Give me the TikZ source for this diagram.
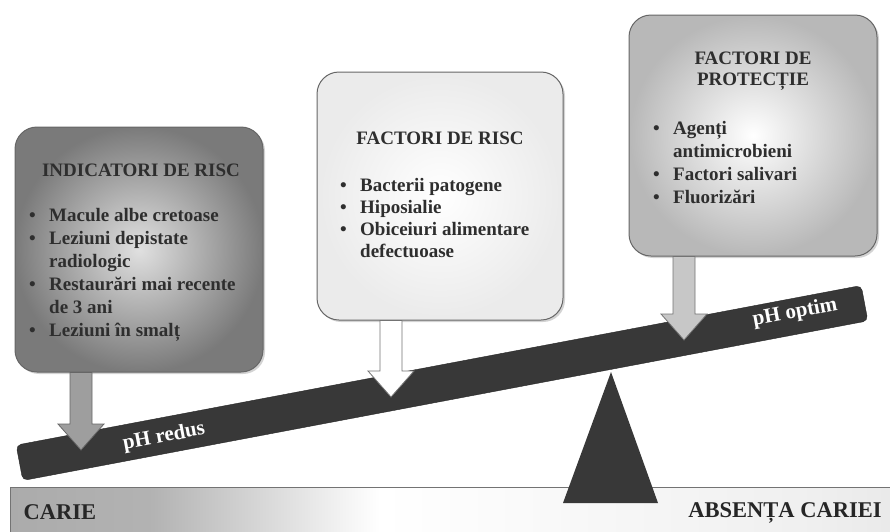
\documentclass[tikz,border=0pt]{standalone}
\usepackage{fontspec}
\setmainfont{Liberation Serif}
\usetikzlibrary{calc,positioning,shadows}

\pgfdeclarehorizontalshading{bandshade}{100bp}{color(0bp)=(black!42); color(33bp)=(black!30); color(46bp)=(white); color(70bp)=(black!6); color(100bp)=(black!20)}
\newcommand{\bl}{\makebox[20pt][l]{\textbullet}}
\newcommand{\ind}{\hspace*{20pt}}
\newcommand{\blockarrow}[3]{%
	\draw[#1] ($(#2 -| #3)+(-11,0)$) -- ($(#3)+(-11,-26)$) -- ($(#3)+(-23,-26)$) -- (#3)
		-- ($(#3)+(23,-26)$) -- ($(#3)+(11,-26)$) -- ($(#2 -| #3)+(11,0)$) -- cycle;}

\tikzset{
	card/.style={draw=black!60, line width=1pt, rounded corners=22pt, inner sep=0pt,
		drop shadow={opacity=0.35, shadow xshift=2pt, shadow yshift=-2pt}},
	ttl/.style={font=\fontsize{19}{21}\selectfont\bfseries, text=black!82, align=center, inner sep=0pt},
	lst/.style={font=\fontsize{19}{23}\selectfont\bfseries, text=black!82, align=left, inner sep=0pt, anchor=north west},
	beam/.style={fill=black!78, draw=black!85, rounded corners=5pt, minimum width=860pt, minimum height=36pt, rotate=10.7},
	beamtxt/.style={font=\fontsize{21}{21}\selectfont\bfseries, text=white, rotate=10.7},
	bandtxt/.style={font=\fontsize{22.5}{22.5}\selectfont\bfseries, text=black!85},
}

\begin{document}
\begin{tikzpicture}[x=1pt,y=-1pt]
	\useasboundingbox (0,0) rectangle (890,531);
	\path[shading=bandshade, draw=black!55] (10,487) rectangle (892,535);
	\node[bandtxt] (carie) at (60,512) {CARIE};
	\node[bandtxt] (absenta) at (785,513) {ABSENȚA CARIEI};
	\coordinate (apex) at (611,372);
	\fill[black!78] (apex) -- (563,503) -- (658,503) -- cycle;
	\node[beam] (bm) at (442,383) {};
	\node[beamtxt] (redus) at (164,437) {pH redus};
	\node[beamtxt] (optim) at (795,313) {pH optim};

	\node[card, minimum width=248pt, minimum height=245pt, inner color=black!12, outer color=black!52] (indic) at (139,249.5) {};
	\node[card, minimum width=246pt, minimum height=248pt, inner color=white, outer color=black!8] (risc) at (440,196) {};
	\node[card, minimum width=248pt, minimum height=241pt, inner color=white, outer color=black!28] (prot) at (753,135.5) {};

	\coordinate (p1) at (81,450);
	\coordinate (p2) at (391,397);
	\coordinate (p3) at (684,340);
	\blockarrow{fill=black!38, draw=black!60, line width=0.8pt}{indic.south}{p1}
	\blockarrow{fill=white, draw=black!55, line width=0.8pt}{risc.south}{p2}
	\blockarrow{fill=black!22, draw=black!55, line width=0.8pt}{prot.south}{p3}

	\node[ttl] (indicT) at (141,170) {INDICATORI DE RISC};
	\node[lst] (indicL) at (29,208) {\bl Macule albe cretoase\\ \bl Leziuni depistate\\ \ind radiologic\\
		\bl Restaurări mai recente\\ \ind de 3 ani\\ \bl Leziuni în smalț};
	\node[ttl] (riscT) at (440,138) {FACTORI DE RISC};
	\node[lst, font=\fontsize{19}{22}\selectfont\bfseries] (riscL) at (340,178) {\bl Bacterii patogene\\ \bl Hiposialie\\ \bl Obiceiuri alimentare\\ \ind defectuoase};
	\node[ttl] (protT) at (753,71.5) {FACTORI DE\\ PROTECȚIE};
	\node[lst] (protL) at (653,121) {\bl Agenți\\ \ind antimicrobieni\\ \bl Factori salivari\\ \bl Fluorizări};
\end{tikzpicture}
\end{document}
